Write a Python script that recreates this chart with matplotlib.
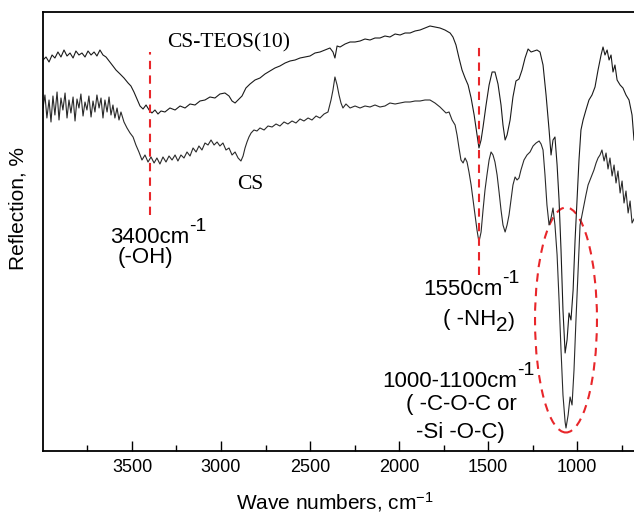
import matplotlib
matplotlib.use("Agg")
import matplotlib.pyplot as plt
from matplotlib.patches import Ellipse

plt.rcParams['font.family'] = ['Liberation Sans', 'DejaVu Sans']
plt.rcParams['mathtext.default'] = 'regular'

# -------------------- data -------------------- #

# CS-TEOS(10) spectrum (upper trace)
teos_wn = [4000, 3983, 3966, 3949, 3933, 3916, 3899, 3882, 3865, 3848, 3831, 3815, 3798, 3781, 3764,
           3747, 3730, 3713, 3697, 3680, 3663, 3646, 3624, 3607, 3590, 3567, 3545, 3522, 3506, 3489,
           3472, 3455, 3438, 3421, 3404, 3388, 3371, 3354, 3337, 3315, 3287, 3258, 3230, 3202, 3174,
           3146, 3118, 3090, 3062, 3034, 3006, 2978, 2955, 2938, 2921, 2904, 2882, 2860, 2837, 2809,
           2781, 2753, 2725, 2697, 2669, 2640, 2612, 2584, 2556, 2528, 2500, 2472, 2444, 2416, 2388,
           2371, 2360, 2348, 2331, 2303, 2275, 2247, 2219, 2191, 2163, 2135, 2107, 2079, 2051, 2022,
           1994, 1966, 1938, 1910, 1882, 1854, 1826, 1798, 1770, 1742, 1713, 1697, 1680, 1663, 1646,
           1629, 1612, 1595, 1578, 1562, 1551, 1539, 1528, 1511, 1494, 1477, 1461, 1444, 1427, 1416,
           1404, 1393, 1376, 1360, 1343, 1326, 1309, 1292, 1275, 1258, 1242, 1225, 1208, 1191, 1174,
           1157, 1146, 1135, 1124, 1112, 1101, 1090, 1079, 1067, 1056, 1045, 1034, 1022, 1011, 1000,
           989, 978, 966, 950, 933, 916, 899, 882, 865, 854, 843, 831, 820, 809, 798,
           787, 775, 758, 742, 725, 708, 691, 680]
teos_r = [391, 394, 389, 396, 393, 399, 394, 401, 395, 398, 393, 400, 396, 398, 394,
          400, 396, 399, 395, 401, 396, 394, 389, 385, 381, 377, 373, 368, 365, 359,
          352, 345, 342, 346, 341, 338, 341, 337, 340, 339, 343, 341, 345, 343, 347,
          346, 350, 351, 354, 353, 357, 358, 355, 350, 348, 351, 355, 363, 367, 371,
          373, 377, 380, 383, 385, 388, 390, 391, 393, 394, 395, 398, 399, 401, 403,
          399, 393, 405, 404, 407, 409, 409, 410, 412, 411, 413, 413, 415, 414, 417,
          416, 418, 418, 420, 421, 423, 425, 424, 423, 421, 418, 414, 406, 393, 381,
          373, 366, 353, 336, 316, 303, 311, 324, 346, 366, 379, 379, 367, 346, 326,
          311, 316, 331, 354, 370, 372, 381, 393, 402, 399, 400, 401, 399, 386, 356,
          321, 296, 311, 314, 286, 251, 201, 141, 98, 111, 138, 131, 161, 211, 251,
          291, 321, 331, 341, 351, 356, 364, 381, 396, 404, 396, 401, 391, 396, 379,
          386, 371, 366, 363, 356, 351, 336, 311]

# CS spectrum (lower trace)
cs_wn = [4000, 3989, 3978, 3966, 3955, 3944, 3933, 3921, 3910, 3899, 3888, 3876, 3865, 3854, 3843,
         3831, 3820, 3809, 3798, 3787, 3775, 3764, 3753, 3742, 3730, 3719, 3708, 3697, 3685, 3674,
         3663, 3652, 3640, 3629, 3618, 3607, 3596, 3584, 3573, 3562, 3545, 3528, 3511, 3494, 3478,
         3461, 3444, 3427, 3410, 3393, 3376, 3360, 3343, 3326, 3309, 3292, 3275, 3258, 3242, 3225,
         3208, 3191, 3174, 3157, 3140, 3124, 3107, 3090, 3073, 3056, 3039, 3022, 3006, 2989, 2972,
         2955, 2938, 2921, 2904, 2888, 2876, 2865, 2854, 2843, 2831, 2815, 2798, 2781, 2758, 2736,
         2713, 2691, 2669, 2646, 2624, 2601, 2579, 2556, 2534, 2511, 2489, 2466, 2444, 2421, 2399,
         2382, 2371, 2360, 2348, 2337, 2326, 2315, 2298, 2275, 2247, 2219, 2191, 2163, 2135, 2107,
         2079, 2051, 2022, 1994, 1966, 1938, 1910, 1882, 1854, 1826, 1798, 1770, 1753, 1736, 1719,
         1702, 1685, 1674, 1663, 1652, 1640, 1629, 1618, 1607, 1595, 1584, 1573, 1562, 1551, 1539,
         1528, 1517, 1506, 1494, 1483, 1472, 1461, 1449, 1438, 1427, 1416, 1404, 1393, 1382, 1371,
         1360, 1348, 1337, 1326, 1315, 1298, 1281, 1264, 1247, 1230, 1213, 1202, 1191, 1180, 1169,
         1157, 1146, 1135, 1124, 1112, 1101, 1090, 1079, 1067, 1062, 1050, 1039, 1028, 1017, 1006,
         994, 983, 972, 961, 950, 938, 927, 916, 905, 893, 882, 871, 860, 848, 837,
         826, 815, 803, 792, 781, 770, 758, 747, 736, 725, 713, 702, 691, 680]
cs_r = [343, 356, 333, 351, 329, 355, 336, 359, 331, 353, 341, 358, 333, 351, 338,
        354, 330, 352, 343, 357, 335, 349, 341, 355, 334, 350, 339, 356, 343, 353,
        333, 351, 339, 354, 336, 346, 333, 343, 331, 339, 329, 323, 318, 314, 306,
        299, 291, 296, 289, 294, 288, 293, 287, 294, 289, 295, 291, 296, 290, 296,
        293, 299, 295, 303, 299, 305, 301, 308, 306, 311, 306, 309, 305, 308, 301,
        303, 296, 299, 293, 290, 295, 303, 309, 314, 318, 321, 320, 323, 321, 325,
        324, 327, 325, 329, 327, 330, 328, 332, 330, 333, 331, 335, 333, 337, 339,
        351, 361, 374, 366, 356, 348, 343, 347, 343, 345, 343, 345, 344, 346, 344,
        345, 348, 347, 348, 349, 349, 350, 350, 351, 351, 348, 344, 341, 338, 339,
        331, 326, 316, 303, 291, 288, 293, 289, 279, 266, 251, 236, 221, 209, 219,
        241, 261, 276, 291, 299, 296, 289, 276, 259, 241, 226, 219, 226, 236, 251,
        266, 274, 271, 273, 281, 291, 296, 299, 305, 308, 310, 307, 301, 276, 246,
        226, 233, 243, 226, 196, 151, 101, 56, 29, 23, 36, 54, 46, 81, 131,
        181, 226, 236, 246, 256, 266, 271, 276, 281, 288, 293, 296, 301, 290, 298,
        282, 293, 275, 286, 268, 280, 258, 270, 248, 260, 238, 250, 228, 232]

major_ticks = [3500, 3000, 2500, 2000, 1500, 1000]
minor_ticks = [3750, 3250, 2750, 2250, 1750, 1250, 750]

# -------------------- figure -------------------- #

fig = plt.figure(figsize=(6.34, 5.15), dpi=100)
ax = fig.add_axes([0.0678, 0.1243, 0.9322, 0.8524])

ax.plot(teos_wn, teos_r, color='#1a1a1a', lw=0.8)
ax.plot(cs_wn, cs_r, color='#2a2a2a', lw=0.8)

ax.set_xlim(4000, 680)
ax.set_ylim(0, 439)

ax.set_xticks(major_ticks)
ax.set_xticks(minor_ticks, minor=True)
ax.set_yticks([])
ax.tick_params(axis='x', which='major', direction='in', length=7, width=1, labelsize=13, pad=6)
ax.tick_params(axis='x', which='minor', direction='in', length=4, width=1)
for side in ['left', 'top', 'bottom']:
    ax.spines[side].set_linewidth(1.3)
ax.spines['right'].set_visible(False)

# sample labels (serif, like the original)
ax.text(3303, 408, 'CS-TEOS(10)', family='Liberation Serif', fontsize=15.5, ha='left', va='center')
ax.text(2910, 266, 'CS', family='Liberation Serif', fontsize=15.5, ha='left', va='center')

# band markers
red = '#e8262a'
ax.plot([3400, 3400], [236, 399], color=red, lw=1.5, ls=(0, (4, 3)))
ax.plot([1550, 1550], [176, 404], color=red, lw=1.5, ls=(0, (4, 3)))
ax.add_patch(Ellipse((1062, 131), 348, 225, fill=False, edgecolor=red, lw=1.5, ls=(0, (4, 3))))


def wavenumber_label(x, y, base):
    # "xxxxcm" with a large raised "-1", as in the original figure
    t = ax.text(x, y, base, fontsize=16, ha='left', va='baseline')
    ax.annotate('-1', xy=(1.0, 0.62), xycoords=t, fontsize=14, ha='left', va='bottom')
    return t


wavenumber_label(3624, 208, '3400cm')
ax.text(3427, 188, '(-OH)', fontsize=16, ha='center', va='baseline')
wavenumber_label(1865, 156, '1550cm')
nh = ax.text(1752, 126, '( -NH', fontsize=16, ha='left', va='baseline')
sub = ax.annotate('2', xy=(1.0, -0.25), xycoords=nh, fontsize=15, ha='left', va='bottom')
ax.annotate(')', xy=(1.0, 0.2), xycoords=sub, fontsize=15, ha='left', va='bottom')
wavenumber_label(2096, 64, '1000-1100cm')
ax.text(1652, 41, '( -C-O-C or', fontsize=16, ha='center', va='baseline')
ax.text(1657, 13, '-Si -O-C)', fontsize=16, ha='center', va='baseline')

fig.text(335 / 634, 6 / 515, 'Wave numbers, cm$^{-1}$', fontsize=15, ha='center', va='baseline')
fig.text(18 / 634, 1 - 208 / 515, 'Reflection, %', fontsize=15, rotation=90, ha='center', va='center')

fig.savefig('out.png', dpi=100)
